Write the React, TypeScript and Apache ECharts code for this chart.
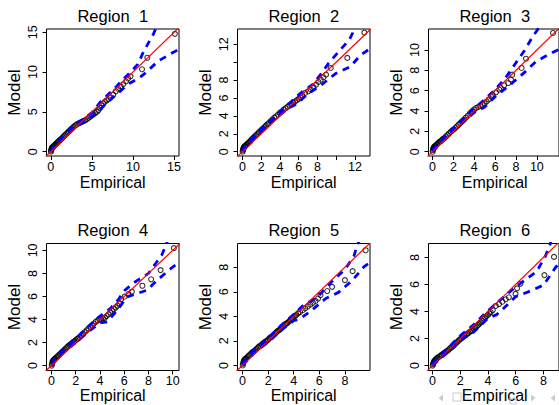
import React, { useEffect, useRef } from "react";
import * as echarts from "echarts";

// ---------- data ----------
const titles = ["Region  1", "Region  2", "Region  3", "Region  4", "Region  5", "Region  6"];

const p1Pts = [[0.02,0.0],[0.05,0.15],[0.08,0.3],[0.12,0.4],[0.16,0.5],[0.2,0.55],[0.25,0.6],[0.3,0.65],[0.4,0.75],[0.5,0.85],[0.6,0.95],[0.7,1.05],[0.8,1.15],[0.9,1.25],[1.0,1.35],[1.15,1.5],[1.3,1.65],[1.45,1.8],[1.6,1.95],[1.75,2.1],[1.9,2.25],[2.05,2.4],[2.2,2.55],[2.35,2.7],[2.5,2.85],[2.65,3.0],[2.8,3.15],[3.0,3.3],[3.2,3.45],[3.4,3.55],[3.6,3.65],[3.8,3.75],[4.0,3.85],[4.2,3.95],[4.4,4.1],[4.6,4.25],[4.8,4.4],[5.0,4.55],[5.2,4.7],[5.4,4.85],[5.6,5.0],[5.8,5.2],[6.0,5.5],[6.2,5.8],[6.4,6.05],[6.6,6.3],[6.8,6.45],[7.0,6.58],[7.28,6.83],[7.6,7.16],[7.93,7.59],[8.2,7.88],[8.5,8.17],[8.82,8.5],[9.15,8.84],[9.4,9.2],[9.7,9.47],[11.1,10.35],[11.75,11.8],[15.1,14.8]];
const p1Up = [[0,0.05],[0.5,0.8],[1,1.4],[2,2.5],[3,3.5],[4,4.1],[5,4.9],[6,6.2],[7,7.2],[8,8.2],[9,9.3],[10,10.3],[10.6,11.0],[11.3,12.6],[12.5,14.8],[13.0,16.0]];
const p1Lo = [[0,0],[0.5,0.55],[1,1.05],[2,2.1],[3,3.05],[4,3.75],[5,4.35],[6,5.3],[7,6.3],[8,7.2],[9,8.1],[9.6,8.6],[10.8,9.3],[11.3,9.7],[13.1,11.4],[14.6,12.3],[15.7,12.9]];

const p2Pts = [[0.02,0.0],[0.05,0.15],[0.08,0.3],[0.12,0.4],[0.16,0.5],[0.2,0.55],[0.25,0.6],[0.3,0.65],[0.4,0.75],[0.5,0.85],[0.6,0.95],[0.7,1.05],[0.8,1.15],[0.9,1.25],[1.0,1.4],[1.15,1.55],[1.3,1.7],[1.45,1.85],[1.6,2.0],[1.75,2.15],[1.9,2.3],[2.05,2.45],[2.2,2.6],[2.35,2.75],[2.5,2.9],[2.65,3.05],[2.8,3.2],[3.0,3.4],[3.2,3.6],[3.4,3.8],[3.6,3.95],[3.8,4.15],[4.0,4.35],[4.2,4.5],[4.4,4.7],[4.6,4.85],[4.8,5.0],[5.0,5.2],[5.2,5.35],[5.4,5.5],[5.6,5.6],[5.8,5.75],[6.0,5.9],[6.2,6.05],[6.4,6.25],[6.68,6.56],[7.03,6.75],[7.28,6.93],[7.56,7.2],[7.85,7.49],[8.1,7.79],[8.35,8.04],[8.63,8.31],[8.91,8.6],[9.41,9.35],[11.18,10.47],[13.0,13.3]];
const p2Up = [[0,0.1],[0.5,0.85],[1,1.45],[2,2.55],[3,3.45],[4,4.45],[5,5.35],[5.5,5.9],[6.5,6.8],[7.5,7.5],[8.6,9.0],[9.2,9.9],[10.2,11.1],[11.4,12.5],[12,13.8]];
const p2Lo = [[0,0],[0.5,0.6],[1,1.25],[2,2.25],[3,3.25],[4,4.15],[5,4.9],[5.8,5.35],[6.9,6.4],[8.4,7.45],[9.9,8.7],[11.5,9.5],[12.6,10.8],[13.6,11.5]];

const p3Pts = [[0.02,0.0],[0.05,0.15],[0.08,0.3],[0.12,0.4],[0.16,0.45],[0.2,0.5],[0.25,0.55],[0.3,0.6],[0.4,0.7],[0.5,0.8],[0.6,0.9],[0.7,1.0],[0.8,1.05],[0.9,1.15],[1.0,1.25],[1.15,1.35],[1.3,1.5],[1.45,1.65],[1.6,1.8],[1.75,1.95],[1.9,2.1],[2.05,2.2],[2.2,2.35],[2.35,2.5],[2.5,2.65],[2.65,2.8],[2.8,2.95],[3.0,3.15],[3.2,3.35],[3.4,3.55],[3.6,3.8],[3.8,4.0],[4.0,4.15],[4.2,4.3],[4.4,4.4],[4.6,4.5],[4.8,4.6],[5.0,4.75],[5.2,4.95],[5.4,5.15],[5.6,5.45],[5.75,5.6],[6.08,5.84],[6.39,6.1],[6.55,6.26],[6.86,6.53],[7.26,6.75],[7.52,7.08],[7.64,7.57],[8.53,8.23],[8.96,9.14],[11.55,11.67]];
const p3Up = [[0,0.1],[0.5,0.75],[1,1.3],[2,2.3],[3,3.3],[4,4.3],[5,5.1],[6,6.1],[7,7.25],[8,8.75],[8.75,9.85],[9.6,11.3],[10.2,12.2]];
const p3Lo = [[0,0],[0.5,0.55],[1,1.05],[2,2.05],[3,2.95],[4,3.85],[5,4.4],[6,5.4],[7.4,6.55],[8.6,7.6],[9.9,8.85],[11.3,9.65],[12.2,10.1]];

const p4Pts = [[0.02,0.0],[0.05,0.15],[0.08,0.3],[0.12,0.4],[0.16,0.45],[0.2,0.5],[0.25,0.55],[0.3,0.6],[0.4,0.7],[0.5,0.8],[0.6,0.9],[0.7,1.0],[0.8,1.1],[0.9,1.2],[1.0,1.3],[1.1,1.4],[1.2,1.5],[1.3,1.6],[1.4,1.7],[1.5,1.8],[1.6,1.85],[1.7,1.95],[1.8,2.05],[1.9,2.1],[2.0,2.2],[2.1,2.3],[2.2,2.35],[2.3,2.45],[2.45,2.6],[2.6,2.75],[2.75,2.9],[2.9,3.05],[3.05,3.2],[3.2,3.35],[3.35,3.5],[3.5,3.65],[3.65,3.8],[3.8,3.9],[3.95,4.0],[4.1,4.05],[4.25,4.1],[4.4,4.15],[4.55,4.3],[4.7,4.45],[4.85,4.6],[5.0,4.75],[5.15,4.9],[5.3,5.05],[5.45,5.2],[5.6,5.4],[5.75,5.75],[6.03,5.98],[6.35,6.21],[6.63,6.41],[7.5,6.93],[8.22,7.49],[9.0,8.29],[10.1,10.2]];
const p4Up = [[0,0.1],[0.5,0.85],[1,1.4],[2,2.35],[3,3.35],[4,4.3],[4.8,4.9],[5.5,5.7],[6,6.5],[6.8,7.2],[8,8.0],[9.1,9.6],[9.5,10.6],[9.7,11.2]];
const p4Lo = [[0,0],[0.5,0.6],[1,1.15],[2,2.0],[3,2.9],[4,3.7],[4.6,3.8],[5.5,4.9],[6.2,5.95],[7.9,6.55],[8.7,7.4],[10.05,8.6],[10.6,9.0]];

const p5Pts = [[0.02,0.0],[0.05,0.15],[0.08,0.3],[0.12,0.4],[0.16,0.45],[0.2,0.5],[0.25,0.55],[0.3,0.6],[0.4,0.7],[0.5,0.8],[0.6,0.9],[0.7,1.0],[0.8,1.1],[0.9,1.15],[1.0,1.25],[1.1,1.35],[1.2,1.45],[1.3,1.55],[1.4,1.6],[1.5,1.7],[1.6,1.8],[1.7,1.85],[1.8,1.95],[1.9,2.0],[2.0,2.1],[2.1,2.2],[2.2,2.3],[2.3,2.35],[2.4,2.45],[2.5,2.55],[2.6,2.65],[2.7,2.75],[2.8,2.85],[2.9,2.9],[3.0,3.0],[3.1,3.1],[3.2,3.2],[3.3,3.3],[3.4,3.4],[3.5,3.45],[3.6,3.55],[3.7,3.65],[3.8,3.75],[3.9,3.85],[4.0,3.95],[4.1,4.05],[4.2,4.1],[4.35,4.25],[4.5,4.35],[4.7,4.5],[4.9,4.65],[5.1,4.8],[5.3,4.95],[5.5,5.1],[5.7,5.25],[5.9,5.45],[6.09,5.73],[6.62,6.06],[7.0,6.4],[8.0,6.95],[8.6,7.68],[9.62,9.38]];
const p5Up = [[0,0.1],[0.5,0.8],[1,1.35],[2,2.2],[3,3.25],[4,4.15],[4.8,4.95],[5.8,5.5],[6.5,6.3],[7,6.85],[8,7.8],[8.7,8.9],[9.0,9.9],[9.2,10.3]];
const p5Lo = [[0,0],[0.5,0.55],[1,1.1],[2,1.9],[3,2.85],[4,3.65],[4.4,3.75],[5.3,4.4],[6.5,5.45],[7.5,5.95],[8.6,6.95],[9.5,8.05],[10.1,8.5]];

const p6Pts = [[0.02,0.0],[0.05,0.1],[0.08,0.2],[0.12,0.3],[0.16,0.35],[0.2,0.4],[0.25,0.45],[0.3,0.5],[0.35,0.55],[0.4,0.6],[0.5,0.65],[0.6,0.75],[0.7,0.8],[0.8,0.9],[0.9,0.95],[1.0,1.05],[1.1,1.1],[1.2,1.2],[1.3,1.3],[1.4,1.35],[1.5,1.45],[1.6,1.55],[1.7,1.65],[1.8,1.75],[1.9,1.85],[2.0,1.95],[2.1,2.0],[2.2,2.1],[2.3,2.2],[2.4,2.25],[2.5,2.35],[2.6,2.4],[2.7,2.5],[2.8,2.55],[2.9,2.6],[3.0,2.7],[3.1,2.8],[3.2,2.9],[3.3,3.0],[3.4,3.1],[3.5,3.2],[3.6,3.3],[3.7,3.45],[3.8,3.55],[3.9,3.65],[4.0,3.75],[4.1,3.85],[4.2,3.95],[4.35,4.1],[4.57,4.41],[4.8,4.55],[5.04,4.72],[5.28,4.9],[5.51,5.05],[5.99,5.3],[6.1,5.71],[6.34,6.05],[8.07,6.69],[8.76,8.04]];
const p6Up = [[0,0.1],[0.5,0.7],[1,1.15],[2,2.2],[3,3.05],[4,4.05],[4.5,4.5],[5.5,5.4],[6.5,6.2],[7.5,6.95],[8.1,8.0],[8.5,9.03],[8.6,9.4]];
const p6Lo = [[0,0],[0.5,0.45],[1,0.9],[2,1.85],[3,2.5],[4,3.5],[4.6,3.75],[5.0,4.1],[6.0,5.1],[6.9,5.45],[8.0,5.95],[8.6,6.85],[8.9,7.3],[9.2,7.6]];

const identityLine = [[-2, -2], [30, 30]];

const p1Ticks = [0, 5, 10, 15];
const p2Ticks = [0, 2, 4, 6, 8, 10, 12];
const p2Labels = [0, 2, 4, 6, 8, 12];
const p3Ticks = [0, 2, 4, 6, 8, 10];
const p4Ticks = [0, 2, 4, 6, 8, 10];
const p5Ticks = [0, 2, 4, 6, 8];
const p6Ticks = [0, 2, 4, 6, 8];

// ---------- layout ----------
const FONT = "'Liberation Sans', Arial, Helvetica, sans-serif";
const colLeft = [46.5, 237.5, 428.5];
const rowTop = [29, 243.5];
const xlabOffset = [26, 24.5];
const boxW = 132.5;
const boxH = 127;

const panels = [
  { pts: p1Pts, up: p1Up, lo: p1Lo, xr: [-0.52, 15.6], yr: [-0.54, 15.41], ticks: p1Ticks, labels: p1Ticks },
  { pts: p2Pts, up: p2Up, lo: p2Lo, xr: [-0.53, 13.6], yr: [-0.48, 13.7], ticks: p2Ticks, labels: p2Labels },
  { pts: p3Pts, up: p3Up, lo: p3Lo, xr: [-0.38, 12.12], yr: [-0.42, 12.06], ticks: p3Ticks, labels: p3Ticks },
  { pts: p4Pts, up: p4Up, lo: p4Lo, xr: [-0.41, 10.52], yr: [-0.43, 10.6], ticks: p4Ticks, labels: p4Ticks },
  { pts: p5Pts, up: p5Up, lo: p5Lo, xr: [-0.39, 9.96], yr: [-0.41, 9.93], ticks: p5Ticks, labels: p5Ticks },
  { pts: p6Pts, up: p6Up, lo: p6Lo, xr: [-0.28, 9.12], yr: [-0.37, 9.03], ticks: p6Ticks, labels: p6Ticks },
];

function buildOption() {
  const grid: any[] = [];
  const xAxis: any[] = [];
  const yAxis: any[] = [];
  const series: any[] = [];
  const graphic: any[] = [];
  panels.forEach((p, i) => {
    const col = i % 3;
    const row = Math.floor(i / 3);
    const left = colLeft[col];
    const top = rowTop[row];
    grid.push({
      left, top, width: boxW, height: boxH,
      show: true, borderColor: "#000", borderWidth: 1, backgroundColor: "transparent",
      containLabel: false,
    });
    const axisCommon = {
      gridIndex: i, type: "value",
      axisLine: { show: false, onZero: false },
      splitLine: { show: false },
      axisTick: { show: true, inside: false, length: 4, lineStyle: { color: "#000", width: 1 }, customValues: p.ticks },
    };
    xAxis.push({
      ...axisCommon, min: p.xr[0], max: p.xr[1],
      axisLabel: { customValues: p.labels, color: "#000", fontSize: 12.5, fontFamily: FONT, margin: 4 },
    });
    yAxis.push({
      ...axisCommon, min: p.yr[0], max: p.yr[1],
      axisLabel: { customValues: p.labels, color: "#000", fontSize: 12.5, fontFamily: FONT, margin: 7, rotate: 90 },
    });
    series.push({
      type: "scatter", xAxisIndex: i, yAxisIndex: i, data: p.pts, symbol: "circle", symbolSize: 5,
      itemStyle: { color: "rgba(0,0,0,0)", borderColor: "#000", borderWidth: 1.1 }, silent: true, z: 2,
    });
    [p.up, p.lo].forEach((env) => {
      series.push({
        type: "line", xAxisIndex: i, yAxisIndex: i, data: env, symbol: "none", clip: true, silent: true,
        lineStyle: { color: "#0000ff", width: 2.8, type: [7, 6] }, z: 3,
      });
    });
    series.push({
      type: "line", xAxisIndex: i, yAxisIndex: i, data: identityLine, symbol: "none", clip: true, silent: true,
      lineStyle: { color: "#ff0000", width: 1.2 }, z: 4,
    });
    const cx = left + boxW / 2;
    const cy = top + boxH / 2;
    graphic.push({
      type: "text", x: cx, y: top - 13.5,
      style: { text: titles[i], font: `16.5px ${FONT}`, fill: "#000", textAlign: "center", textVerticalAlign: "middle" },
    });
    graphic.push({
      type: "text", x: cx, y: top + boxH + xlabOffset[row],
      style: { text: "Empirical", font: `16px ${FONT}`, fill: "#000", textAlign: "center", textVerticalAlign: "middle" },
    });
    graphic.push({
      type: "text", x: left - 32, y: cy, rotation: Math.PI / 2,
      style: { text: "Model", font: `17px ${FONT}`, fill: "#000", textAlign: "center", textVerticalAlign: "middle" },
    });
  });
  // beamer navigation symbols (faint)
  const nav = "#c9c9d6";
  graphic.push({ type: "polygon", shape: { points: [[443, 394.5], [443, 401.5], [438.5, 398]] }, style: { fill: nav } });
  graphic.push({ type: "rect", shape: { x: 453, y: 393, width: 8, height: 8 }, style: { fill: "none", stroke: nav, lineWidth: 1 } });
  graphic.push({ type: "rect", shape: { x: 510, y: 398, width: 6, height: 6 }, style: { fill: "none", stroke: nav, lineWidth: 1 } });
  graphic.push({ type: "polygon", shape: { points: [[531, 394.5], [531, 401.5], [535.5, 398]] }, style: { fill: nav } });
  graphic.push({ type: "polygon", shape: { points: [[555, 394.5], [555, 401.5], [550.5, 398]] }, style: { fill: nav } });
  return { animation: false, backgroundColor: "#fff", grid, xAxis, yAxis, series, graphic };
}

export default function App() {
  const ref = useRef<HTMLDivElement>(null);
  useEffect(() => {
    if (!ref.current) return;
    const chart = echarts.init(ref.current, undefined, { renderer: "svg" });
    chart.setOption(buildOption() as any);
    return () => chart.dispose();
  }, []);
  return (
    <div
      ref={ref}
      style={{ position: "fixed", left: 0, top: 0, width: 559, height: 405, overflow: "hidden", background: "#fff" }}
    />
  );
}
